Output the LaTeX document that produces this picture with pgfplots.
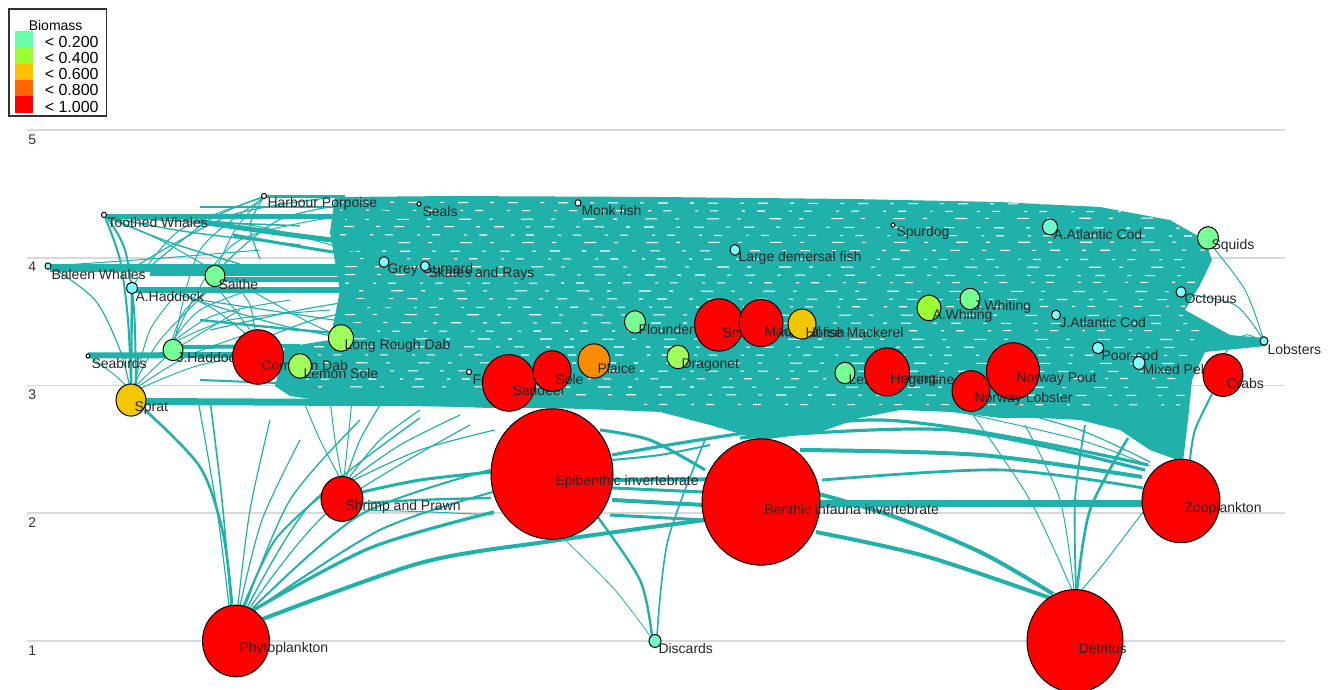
\documentclass[border=0pt]{standalone}
\usepackage{fontspec}
\setmainfont{Liberation Sans}
\usepackage{pgfplots}
\pgfplotsset{compat=1.18}
\definecolor{edge}{RGB}{32,178,170}
\definecolor{cA}{RGB}{102,255,170}
\definecolor{cB}{RGB}{153,255,51}
\definecolor{cC}{RGB}{255,192,0}
\definecolor{cD}{RGB}{255,102,0}
\definecolor{cE}{RGB}{255,0,0}
\definecolor{cyanS}{RGB}{128,255,255}
\definecolor{cyanG}{RGB}{112,255,200}
\definecolor{greenL}{RGB}{120,255,150}
\definecolor{ygreen}{RGB}{160,255,90}
\definecolor{gold}{RGB}{242,198,0}
\definecolor{orng}{RGB}{255,140,0}
\newcommand\lab{\fontsize{7}{8}\selectfont}
\newcommand\leg{\fontsize{8}{8}\selectfont}
\pgfplotsset{
 nd/.style 2 args={only marks, mark=*, mark size=#1, forget plot,
   mark options={draw=black, fill=#2, line width=0.5pt, yscale=1.07},
   nodes near coords, point meta=explicit symbolic,
   every node near coord/.append style={anchor=west, inner sep=0pt, xshift=1.5pt, yshift=-4pt, font=\lab, text=black!85}},
 ed/.style={edge, line width=#1, smooth, no marks, forget plot},
 gA/.style={white, line width=0.55pt, no marks, forget plot, dash pattern=on 2pt off 7pt on 5pt off 11pt, dash phase=#1},
 gB/.style={white, line width=0.55pt, no marks, forget plot, dash pattern=on 4pt off 12pt on 1.5pt off 6pt, dash phase=#1},
 gC/.style={white, line width=0.55pt, no marks, forget plot, dash pattern=on 6pt off 9pt on 2pt off 14pt, dash phase=#1},
}
\begin{document}
\begin{tikzpicture}
\begin{axis}[
 scale only axis, width=665pt, height=345pt,
 xmin=0, xmax=1330, ymin=0.6164, ymax=6.0176,
 clip=false,
 axis line style={draw=none},
 xtick=\empty,
 ytick={1,2,3,4,5},
 major tick length=0pt,
 yticklabel style={font=\lab, text=black!80, anchor=north west, inner sep=0pt, xshift=14pt, yshift=-2pt},
 /pgf/number format/assume math mode=true,
 legend cell align=left,
 legend style={at={(rel axis cs:0.006,0.9884)}, anchor=north west, draw=black!80, line width=0.8pt, fill=white, font=\leg, inner xsep=2pt, inner ysep=-1.5pt, row sep=-3.3pt, column sep=4pt},
 legend image code/.code={\fill[draw=none] (1pt,-2.4pt) rectangle (10pt,5.9pt);},
]
% grid lines
\addplot[gray!30, line width=0.8pt, forget plot] coordinates {(27,5) (1285,5)};
\addplot[gray!30, line width=0.8pt, forget plot] coordinates {(27,4) (1285,4)};
\addplot[gray!30, line width=0.8pt, forget plot] coordinates {(27,3) (1285,3)};
\addplot[gray!30, line width=0.8pt, forget plot] coordinates {(27,2) (1285,2)};
\addplot[gray!30, line width=0.8pt, forget plot] coordinates {(27,1) (1285,1)};
% dense band of flows
\addplot[fill=edge, draw=none, forget plot] coordinates {(335,4.475) (450,4.483) (650,4.476) (850,4.460) (1000,4.436) (1100,4.397) (1170,4.295) (1205,4.139) (1212,3.982) (1200,3.787) (1185,3.591) (1230,3.395) (1265,3.372) (1266,3.309) (1205,3.262) (1192,3.043) (1188,2.730) (1183,2.401) (1150,2.495) (1120,2.652) (1080,2.730) (1040,2.746) (1000,2.746) (950,2.793) (900,2.808) (860,2.746) (820,2.636) (761,2.573) (710,2.691) (660,2.793) (612,2.808) (551,2.824) (490,2.824) (430,2.839) (380,2.847) (330,2.871) (290,2.918) (275,2.995) (285,3.300) (330,3.356) (340,3.740) (330,4.200)};
% gaps between the many flows of the band
\addplot[gA=0pt] coordinates {(340,4.435) (1110,4.420)};
\addplot[gB=3pt] coordinates {(340,4.372) (1160,4.360)};
\addplot[gC=5pt] coordinates {(345,4.300) (1175,4.310)};
\addplot[gA=7pt] coordinates {(340,4.245) (1190,4.232)};
\addplot[gB=1pt] coordinates {(340,4.180) (1195,4.170)};
\addplot[gC=2pt] coordinates {(340,4.118) (1200,4.122)};
\addplot[gA=4pt] coordinates {(340,4.050) (1205,4.060)};
\addplot[gB=6pt] coordinates {(340,3.993) (1205,3.985)};
\addplot[gC=0pt] coordinates {(345,3.930) (1200,3.925)};
\addplot[gA=9pt] coordinates {(345,3.868) (1195,3.860)};
\addplot[gB=2pt] coordinates {(345,3.800) (1195,3.808)};
\addplot[gC=8pt] coordinates {(345,3.742) (1190,3.735)};
\addplot[gA=3pt] coordinates {(345,3.680) (1185,3.672)};
\addplot[gB=5pt] coordinates {(345,3.610) (1185,3.620)};
\addplot[gC=1pt] coordinates {(345,3.555) (1185,3.548)};
\addplot[gA=6pt] coordinates {(345,3.492) (1190,3.485)};
\addplot[gB=0pt] coordinates {(345,3.425) (1200,3.430)};
\addplot[gC=4pt] coordinates {(300,3.365) (1195,3.360)};
\addplot[gA=2pt] coordinates {(300,3.303) (1190,3.298)};
\addplot[gB=7pt] coordinates {(300,3.240) (1190,3.236)};
\addplot[gC=3pt] coordinates {(300,3.178) (1185,3.172)};
\addplot[gA=5pt] coordinates {(300,3.115) (1185,3.110)};
\addplot[gB=8pt] coordinates {(290,3.050) (1185,3.055)};
\addplot[gC=6pt] coordinates {(300,2.990) (1185,2.985)};
\addplot[gA=1pt] coordinates {(560,2.928) (1185,2.922)};
\addplot[gB=4pt] coordinates {(620,2.852) (1180,2.848)};
% left flows
\addplot[ed=4pt] coordinates {(50,3.920) (345,3.920)};
\addplot[ed=2pt] coordinates {(150,3.873) (345,3.873)};
\addplot[ed=2.5pt] coordinates {(105,4.319) (345,4.319)};
\addplot[ed=1.5pt] coordinates {(264,4.480) (345,4.480)};
\addplot[ed=1pt] coordinates {(200,4.397) (345,4.397)};
\addplot[ed=3pt] coordinates {(132,3.748) (345,3.748)};
\addplot[ed=2.5pt] coordinates {(215,3.826) (345,3.826)};
\addplot[ed=3pt] coordinates {(88,3.235) (300,3.240)};
\addplot[ed=2pt] coordinates {(173,3.300) (300,3.310)};
\addplot[ed=1pt] coordinates {(200,3.043) (300,3.012)};
\addplot[ed=3.5pt] coordinates {(131,2.875) (560,2.860)};
\addplot[ed=2.5pt] coordinates {(200,4.280) (300,4.170) (400,4.076)};
\addplot[ed=1.5pt] coordinates {(233,4.178) (320,4.061) (400,3.967)};
\addplot[ed=0.6pt] coordinates {(200,3.669) (300,3.552) (400,3.434)};
\addplot[ed=0.6pt] coordinates {(210,3.434) (300,3.591) (390,3.708)};
\addplot[ed=0.6pt] coordinates {(260,3.356) (320,3.528) (400,3.630)};
\addplot[ed=0.6pt] coordinates {(180,3.708) (280,3.474) (380,3.317)};
\addplot[ed=0.5pt] coordinates {(250,3.748) (310,3.490) (360,3.317)};
\addplot[ed=1.2pt] coordinates {(200,3.513) (300,3.434) (400,3.372)};
\addplot[ed=1pt] coordinates {(105,4.319) (120,3.982) (128,3.513) (131,3.004)};
\addplot[ed=1pt] coordinates {(107,4.319) (125,4.061) (134,3.591) (136,3.004)};
\addplot[ed=1.2pt] coordinates {(132,3.760) (131,2.990)};
\addplot[ed=0.6pt] coordinates {(50,3.935) (95,3.669) (120,3.278) (130,2.980)};
\addplot[ed=0.5pt] coordinates {(89,3.231) (115,3.080) (128,2.980)};
\addplot[ed=0.5pt] coordinates {(133,2.988) (160,3.356) (214,3.787)};
\addplot[ed=0.5pt] coordinates {(135,2.988) (175,3.278) (240,3.591)};
\addplot[ed=0.5pt] coordinates {(136,2.980) (190,3.239) (260,3.434)};
\addplot[ed=0.5pt] coordinates {(137,2.965) (200,3.160) (290,3.278)};
\addplot[ed=0.5pt] coordinates {(134,2.988) (150,3.434) (180,3.748)};
\addplot[ed=0.5pt] coordinates {(172,3.356) (185,3.591) (215,3.787)};
\addplot[ed=0.5pt] coordinates {(173,3.356) (200,3.591) (250,3.748)};
\addplot[ed=0.5pt] coordinates {(174,3.349) (215,3.552) (290,3.669)};
\addplot[ed=0.5pt] coordinates {(175,3.341) (230,3.513) (330,3.591)};
\addplot[ed=0.5pt] coordinates {(250,3.434) (235,3.591) (215,3.787)};
\addplot[ed=0.5pt] coordinates {(255,3.434) (250,3.630) (240,3.748)};
\addplot[ed=0.5pt] coordinates {(245,3.411) (215,3.591) (180,3.732)};
\addplot[ed=0.5pt] coordinates {(106,4.327) (160,4.139) (213,3.904)};
\addplot[ed=0.5pt] coordinates {(262,4.468) (180,4.217) (134,3.794)};
\addplot[ed=0.5pt] coordinates {(418,4.405) (240,4.139) (174,3.356)};
\addplot[ed=0.5pt] coordinates {(106,4.327) (250,4.256) (383,3.982)};
\addplot[ed=0.5pt] coordinates {(262,4.468) (235,4.217) (217,3.920)};
\addplot[ed=0.5pt] coordinates {(264,4.468) (200,4.061) (175,3.356)};
\addplot[ed=0.7pt] coordinates {(106,4.319) (190,4.200) (300,4.100)};
\addplot[ed=0.7pt] coordinates {(106,4.319) (170,4.120) (240,3.950)};
\addplot[ed=0.6pt] coordinates {(264,4.480) (210,4.300) (150,3.930)};
\addplot[ed=0.6pt] coordinates {(330,4.470) (230,4.330) (135,3.930)};
\addplot[ed=0.8pt] coordinates {(106,4.319) (200,4.280) (300,4.250)};
\addplot[ed=0.6pt] coordinates {(264,4.480) (250,4.250) (260,3.990)};
\addplot[ed=0.6pt] coordinates {(380,4.460) (280,4.300) (215,3.880)};
\addplot[ed=0.5pt] coordinates {(48,3.935) (150,3.990) (260,4.060)};
% phytoplankton flows
\addplot[ed=1.3pt] coordinates {(145,2.808) (200,2.362) (223,1.845) (232,1.290)};
\addplot[ed=0.8pt] coordinates {(210,2.886) (222,2.104) (231,1.282)};
\addplot[ed=0.6pt] coordinates {(198,2.886) (217,2.025) (229,1.274)};
\addplot[ed=1.6pt] coordinates {(250,1.227) (370,1.728) (494,2.010)};
\addplot[ed=2pt] coordinates {(255,1.149) (420,1.610) (552,1.783) (705,1.947)};
\addplot[ed=1pt] coordinates {(243,1.266) (275,1.790) (322,2.143)};
\addplot[ed=0.7pt] coordinates {(245,1.266) (290,2.104) (360,2.730)};
\addplot[ed=0.7pt] coordinates {(247,1.258) (310,2.065) (420,2.746)};
\addplot[ed=0.6pt] coordinates {(249,1.250) (330,2.025) (470,2.691)};
\addplot[ed=1pt] coordinates {(251,1.243) (360,1.986) (490,2.339)};
\addplot[ed=1pt] coordinates {(252,1.227) (380,1.869) (500,2.182)};
\addplot[ed=0.6pt] coordinates {(240,1.274) (262,1.947) (300,2.573)};
\addplot[ed=0.6pt] coordinates {(238,1.282) (250,2.025) (270,2.730)};
% shrimp flows
\addplot[ed=0.5pt] coordinates {(340,2.276) (320,2.574) (303,2.886)};
\addplot[ed=0.5pt] coordinates {(342,2.276) (335,2.574) (330,2.886)};
\addplot[ed=0.5pt] coordinates {(344,2.276) (348,2.574) (352,2.886)};
\addplot[ed=0.6pt] coordinates {(346,2.276) (360,2.574) (380,2.847)};
\addplot[ed=0.6pt] coordinates {(348,2.268) (380,2.574) (420,2.808)};
\addplot[ed=0.6pt] coordinates {(350,2.260) (400,2.534) (460,2.769)};
\addplot[ed=0.6pt] coordinates {(352,2.253) (420,2.495) (495,2.652)};
\addplot[ed=1.5pt] coordinates {(362,2.166) (420,2.260) (491,2.322)};
\addplot[ed=1.2pt] coordinates {(364,2.080) (420,2.104) (491,2.120)};
\addplot[ed=0.5pt] coordinates {(364,2.025) (430,2.010) (493,1.986)};
% epibenthic / benthic / zooplankton / detritus flows
\addplot[ed=1.5pt] coordinates {(612,2.198) (703,2.166)};
\addplot[ed=2pt] coordinates {(612,2.104) (703,2.065)};
\addplot[ed=1.5pt] coordinates {(610,1.986) (705,1.947)};
\addplot[ed=1.5pt] coordinates {(600,2.652) (650,2.573) (705,2.339)};
\addplot[ed=1pt] coordinates {(612,2.417) (660,2.456) (710,2.534)};
\addplot[ed=3.5pt] coordinates {(820,2.080) (1142,2.080)};
\addplot[ed=2pt] coordinates {(612,2.260) (760,2.245) (880,2.010) (980,1.697) (1053,1.368)};
\addplot[ed=2pt] coordinates {(816,1.853) (925,1.665) (1050,1.337)};
\addplot[ed=0.5pt] coordinates {(1072,1.399) (1030,2.104) (973,2.769)};
\addplot[ed=0.5pt] coordinates {(1074,1.399) (1060,2.104) (1025,2.691)};
\addplot[ed=1.3pt] coordinates {(1077,1.399) (1090,2.025) (1128,2.589)};
\addplot[ed=0.5pt] coordinates {(1080,1.384) (1105,1.619) (1143,2.010)};
\addplot[ed=0.9pt] coordinates {(1076,1.399) (1075,2.104) (1085,2.691)};
\addplot[ed=2pt] coordinates {(800,2.495) (980,2.456) (1142,2.284)};
\addplot[ed=1.6pt] coordinates {(740,2.589) (950,2.652) (1145,2.338)};
\addplot[ed=1.6pt] coordinates {(612,2.456) (880,2.730) (1148,2.378)};
\addplot[ed=1.4pt] coordinates {(822,2.260) (1000,2.339) (1143,2.198)};
\addplot[ed=0.6pt] coordinates {(990,2.847) (1080,2.652) (1150,2.401)};
\addplot[ed=0.5pt] coordinates {(950,2.808) (1080,2.573) (1150,2.370)};
\addplot[ed=1.2pt] coordinates {(652,1.039) (640,1.477) (597,1.978)};
\addplot[ed=0.4pt] coordinates {(650,1.039) (615,1.399) (565,1.791)};
\addplot[ed=0.8pt] coordinates {(657,1.039) (668,1.791) (705,2.573)};
% right side flows
\addplot[ed=0.5pt] coordinates {(1212,4.092) (1245,3.748) (1263,3.372)};
\addplot[ed=0.5pt] coordinates {(1185,3.716) (1235,3.630) (1262,3.372)};
\addplot[ed=1pt] coordinates {(1212,2.933) (1195,2.652) (1190,2.417)};
\addplot[ed=0.5pt] coordinates {(1225,3.254) (1245,3.395) (1263,3.341)};
% functional groups (x position, trophic level)
\addplot[nd={1.5pt}{cyanS}] coordinates {(48,3.935) [Baleen Whales]};
\addplot[nd={1pt}{white}] coordinates {(88,3.231) [Seabirds]};
\addplot[nd={1.25pt}{white}] coordinates {(104,4.335) [Toothed Whales]};
\addplot[nd={7.5pt}{gold}] coordinates {(131,2.886) [Sprat]};
\addplot[nd={2.7pt}{cyanS}] coordinates {(132,3.763) [A.Haddock]};
\addplot[nd={5pt}{greenL}] coordinates {(173,3.278) [J.Haddock]};
\addplot[nd={5pt}{greenL}] coordinates {(215,3.857) [Saithe]};
\addplot[nd={16.75pt}{cE}] coordinates {(236,1.0) [Phytoplankton]};
\addplot[nd={12.75pt}{cE}] coordinates {(258,3.223) [Common Dab]};
\addplot[nd={1.25pt}{white}] coordinates {(264,4.483) [Harbour Porpoise]};
\addplot[nd={5.75pt}{ygreen}] coordinates {(300,3.153) [Lemon Sole]};
\addplot[nd={6.25pt}{ygreen}] coordinates {(341,3.372) [Long Rough Dab]};
\addplot[nd={10.5pt}{cE}] coordinates {(342,2.112) [Shrimp and Prawn]};
\addplot[nd={2.5pt}{cyanS}] coordinates {(384,3.967) [Grey Gurnard]};
\addplot[nd={1pt}{white}] coordinates {(419,4.421) [Seals]};
\addplot[nd={2.25pt}{cyanS}] coordinates {(425,3.935) [Skates and Rays]};
\addplot[nd={1.25pt}{white}] coordinates {(469,3.106) [Forkbeard]};
\addplot[nd={13.25pt}{cE}] coordinates {(509,3.020) [Sandeel]};
\addplot[nd={9.5pt}{cE}] coordinates {(552,3.113) [Sole]};
\addplot[nd={30.5pt}{cE}] coordinates {(552,2.307) [Epibenthic invertebrate]};
\addplot[nd={1.5pt}{white}] coordinates {(578,4.429) [Monk fish]};
\addplot[nd={8pt}{orng}] coordinates {(594,3.192) [Plaice]};
\addplot[nd={5.25pt}{greenL}] coordinates {(635,3.497) [Flounder]};
\addplot[nd={3pt}{cyanG}] coordinates {(655,1.0) [Discards]};
\addplot[nd={5.5pt}{ygreen}] coordinates {(678,3.223) [Dragonet]};
\addplot[nd={12.25pt}{cE}] coordinates {(719,3.474) [Small demersal fish]};
\addplot[nd={2.5pt}{cyanS}] coordinates {(735,4.061) [Large demersal fish]};
\addplot[nd={11pt}{cE}] coordinates {(761,3.489) [Mackerel]};
\addplot[nd={29.5pt}{cE}] coordinates {(761,2.088) [Benthic infauna invertebrate]};
\addplot[nd={7pt}{gold}] coordinates {(802,3.481) [Horse Mackerel]};
\addplot[nd={5pt}{greenL}] coordinates {(845,3.098) [Lesser Argentine]};
\addplot[nd={11.25pt}{cE}] coordinates {(887,3.106) [Herring]};
\addplot[nd={1pt}{white}] coordinates {(893,4.256) [Spurdog]};
\addplot[nd={6pt}{cB}] coordinates {(929,3.607) [A.Whiting]};
\addplot[nd={5pt}{greenL}] coordinates {(970,3.677) [J.Whiting]};
\addplot[nd={13.25pt}{cE}] coordinates {(1013,3.113) [Norway Pout]};
\addplot[nd={9.5pt}{cE}] coordinates {(971,2.957) [Norway Lobster]};
\addplot[nd={3.75pt}{cyanG}] coordinates {(1050,4.241) [A.Atlantic Cod]};
\addplot[nd={2.25pt}{cyanS}] coordinates {(1056,3.552) [J.Atlantic Cod]};
\addplot[nd={24pt}{cE}] coordinates {(1075,1.0) [Detritus]};
\addplot[nd={2.75pt}{cyanS}] coordinates {(1098,3.294) [Poor-cod]};
\addplot[nd={3pt}{cyanS}] coordinates {(1139,3.176) [Mixed Pelagic]};
\addplot[nd={2.5pt}{cyanS}] coordinates {(1181,3.732) [Octopus]};
\addplot[nd={19.5pt}{cE}] coordinates {(1181,2.096) [Zooplankton]};
\addplot[nd={5.25pt}{greenL}] coordinates {(1208,4.155) [Squids]};
\addplot[nd={10pt}{cE}] coordinates {(1223,3.082) [Crabs]};
\addplot[nd={2pt}{cyanS}] coordinates {(1264,3.348) [Lobsters]};
% legend
\addlegendimage{empty legend}\addlegendentry{\rule[-12.5pt]{0pt}{23pt}\hspace*{-8pt}\lab Biomass}
\addlegendimage{fill=cA}\addlegendentry{\rule[-2pt]{0pt}{7.5pt}< 0.200}
\addlegendimage{fill=cB}\addlegendentry{\rule[-2pt]{0pt}{7.5pt}< 0.400}
\addlegendimage{fill=cC}\addlegendentry{\rule[-2pt]{0pt}{7.5pt}< 0.600}
\addlegendimage{fill=cD}\addlegendentry{\rule[-2pt]{0pt}{7.5pt}< 0.800}
\addlegendimage{fill=cE}\addlegendentry{\rule[-2pt]{0pt}{7.5pt}< 1.000}
\end{axis}
\pgfresetboundingbox
\path (current axis.south west) rectangle (current axis.north east);
\end{tikzpicture}
\end{document}
